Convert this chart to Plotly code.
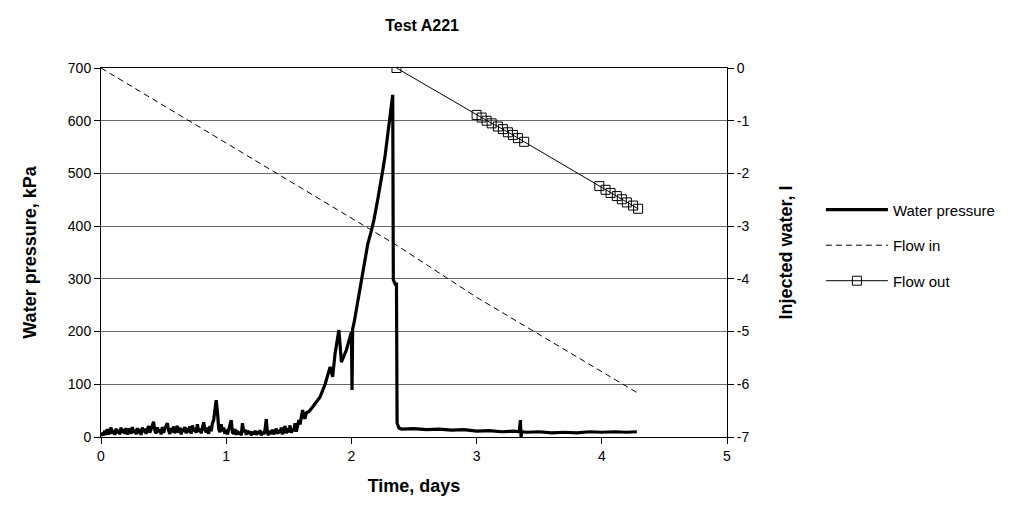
import plotly.graph_objects as go

# water pressure record (days, kPa)
time_p = [0.00, 0.01, 0.02, 0.03, 0.04, 0.05, 0.06, 0.07, 0.08, 0.09,
          0.10, 0.11, 0.12, 0.13, 0.14, 0.15, 0.16, 0.17, 0.18, 0.19,
          0.20, 0.21, 0.22, 0.23, 0.24, 0.25, 0.26, 0.27, 0.28, 0.29,
          0.30, 0.31, 0.32, 0.33, 0.34, 0.35, 0.36, 0.37, 0.38, 0.39,
          0.40, 0.41, 0.42, 0.43, 0.44, 0.45, 0.46, 0.47, 0.48, 0.49,
          0.50, 0.51, 0.52, 0.53, 0.54, 0.55, 0.56, 0.57, 0.58, 0.59,
          0.60, 0.61, 0.62, 0.63, 0.64, 0.65, 0.66, 0.67, 0.68, 0.69,
          0.70, 0.71, 0.72, 0.73, 0.74, 0.75, 0.76, 0.77, 0.78, 0.79,
          0.80, 0.81, 0.82, 0.83, 0.84, 0.85, 0.86, 0.87, 0.88, 0.89,
          0.90, 0.91, 0.92, 0.93, 0.94, 0.95, 0.96, 0.97, 0.98, 0.99,
          1.00, 1.01, 1.02, 1.03, 1.04, 1.05, 1.06, 1.07, 1.08, 1.09,
          1.10, 1.11, 1.12, 1.13, 1.14, 1.15, 1.16, 1.17, 1.18, 1.19,
          1.20, 1.21, 1.22, 1.23, 1.24, 1.25, 1.26, 1.27, 1.28, 1.29,
          1.30, 1.31, 1.32, 1.33, 1.34, 1.35, 1.36, 1.37, 1.38, 1.39,
          1.40, 1.41, 1.42, 1.43, 1.44, 1.45, 1.46, 1.47, 1.48, 1.49,
          1.50, 1.51, 1.52, 1.53, 1.54, 1.55, 1.56, 1.57, 1.58, 1.59,
          1.60, 1.61, 1.62, 1.63, 1.64, 1.66, 1.69, 1.72, 1.75, 1.79,
          1.83, 1.85, 1.87, 1.90, 1.92, 1.96, 2.00, 2.005, 2.01, 2.02,
          2.05, 2.07, 2.10, 2.13, 2.16, 2.18, 2.21, 2.23, 2.25, 2.27,
          2.29, 2.31, 2.33, 2.335, 2.35, 2.36, 2.365, 2.38, 2.40, 2.50,
          2.60, 2.70, 2.80, 2.90, 3.00, 3.10, 3.20, 3.30, 3.34, 3.35,
          3.355, 3.36, 3.40, 3.50, 3.60, 3.70, 3.80, 3.90, 4.00, 4.10,
          4.20, 4.28]
pressure = [2, 8, 3, 12, 4, 15, 5, 10, 18, 6,
            13, 4, 16, 7, 14, 5, 18, 8, 15, 6,
            17, 5, 12, 16, 6, 19, 8, 14, 5, 17,
            7, 15, 4, 18, 9, 16, 6, 14, 21, 8,
            16, 22, 29, 12, 7, 18, 9, 15, 5, 19,
            8, 16, 20, 26, 12, 6, 17, 9, 20, 7,
            15, 21, 8, 18, 5, 16, 10, 19, 7, 17,
            9, 20, 6, 22, 11, 17, 8, 24, 10, 16,
            7, 19, 28, 14, 9, 18, 6, 21, 11, 26,
            32, 52, 70, 48, 16, 9, 24, 11, 18, 6,
            14, 5, 16, 27, 32, 9, 6, 15, 4, 12,
            5, 10, 3, 26, 9, 14, 4, 12, 6, 11,
            3, 10, 5, 12, 4, 11, 6, 13, 3, 10,
            5, 14, 34, 7, 4, 12, 6, 14, 5, 11,
            16, 6, 13, 8, 18, 5, 14, 21, 7, 17,
            9, 22, 8, 16, 11, 26, 10, 20, 32, 24,
            40, 51, 38, 35, 46, 48, 57, 66, 76, 100,
            133, 114, 159, 203, 142, 165, 199, 89, 205, 215,
            255, 290, 330, 365, 392, 412, 450, 475, 505, 535,
            570, 605, 649, 298, 290, 290, 26, 17, 15, 16,
            14, 15, 13, 14, 11, 12, 10, 11, 10, 32,
            0, 10, 9, 10, 8, 9, 8, 10, 9, 10,
            9, 10]

# injected water (l)
time_in = [0.00, 2.36, 3.00, 4.29]
flow_in = [0.00, -3.36, -4.35, -6.17]

time_out = [2.36, 3.00, 3.04, 3.08, 3.12, 3.17, 3.21, 3.25, 3.29, 3.33, 3.38,
            3.98, 4.03, 4.07, 4.12, 4.16, 4.20, 4.25, 4.29]
flow_out = [0.00, -0.89, -0.94, -1.00, -1.05, -1.11, -1.16, -1.22, -1.27, -1.33, -1.40,
            -2.24, -2.31, -2.37, -2.43, -2.49, -2.55, -2.61, -2.67]

right_ticks = [0, -1, -2, -3, -4, -5, -6, -7]
right_labels = ['0', '-1', '-2', '-3', '-4', '-5', '-6', '-7']

font = 'Liberation Sans, Arial, sans-serif'

fig = go.Figure()
fig.add_trace(go.Scatter(x=time_p, y=pressure, mode='lines', name='Water pressure', legendgroup='a',
                         line=dict(color='black', width=3.2)))
fig.add_trace(go.Scatter(x=time_in, y=flow_in, mode='lines', name='Flow in', yaxis='y2', legendgroup='b',
                         line=dict(color='black', width=1, dash='6px,4px')))
fig.add_trace(go.Scatter(x=time_out, y=flow_out, mode='lines+markers', name='Flow out', yaxis='y2',
                         legendgroup='c', line=dict(color='black', width=1),
                         marker=dict(symbol='square-open', size=9, color='black', line=dict(width=1))))

# page body has an 8px margin, so the margins are shifted by that much
fig.update_layout(
    width=1025, height=520,
    margin=dict(l=93, r=306, t=60, b=91),
    paper_bgcolor='white', plot_bgcolor='white',
    font=dict(family=font, size=14, color='black'),
    title=dict(text='<b>Test A221</b>', x=0.404, xanchor='center', y=0.967, yanchor='middle',
               font=dict(size=16)),
    xaxis=dict(range=[0, 5], dtick=1, showgrid=False, zeroline=False, automargin=False,
               showline=True, linecolor='black', linewidth=1, mirror=True,
               ticks='outside', ticklen=6, tickcolor='black',
               title=dict(text='<b>Time, days</b>', font=dict(size=18), standoff=16)),
    yaxis=dict(range=[0, 700], dtick=100, showgrid=True, gridcolor='#6a6a6a', gridwidth=1,
               zeroline=False, showline=True, linecolor='black', linewidth=1, automargin=False,
               ticks='outside', ticklen=6, tickcolor='black',
               title=dict(text='<b>Water pressure, kPa</b>', font=dict(size=18), standoff=26)),
    yaxis2=dict(range=[-7, 0], tickvals=right_ticks, ticktext=right_labels, overlaying='y',
                side='right', showgrid=False, automargin=False,
                zeroline=False, showline=True, linecolor='black', linewidth=1,
                ticks='outside', ticklen=6, tickcolor='black',
                title=dict(text='<b>Injected water, l</b>', font=dict(size=18), standoff=30)),
    legend=dict(x=1.15, xanchor='left', y=0.66, yanchor='top', font=dict(size=15),
                itemwidth=62, traceorder='grouped', tracegroupgap=13, bgcolor='rgba(0,0,0,0)'),
)

fig.write_html('out.html')
